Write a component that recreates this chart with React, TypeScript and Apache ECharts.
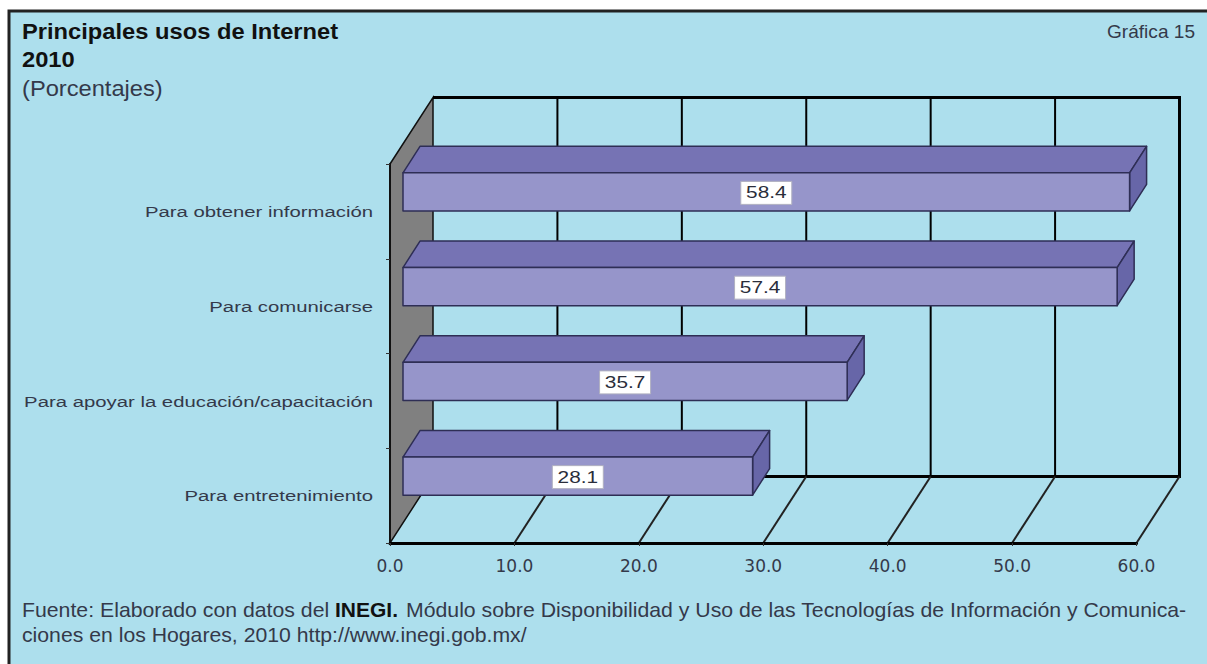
import React, { useEffect, useRef } from "react";
import * as echarts from "echarts";

const categories = [
  "Para obtener información",
  "Para comunicarse",
  "Para apoyar la educación/capacitación",
  "Para entretenimiento",
];
const values = [58.4, 57.4, 35.7, 28.1];
const xTicks = [0, 10, 20, 30, 40, 50, 60];

const WALL_DX = 43;
const WALL_DY = -66.5;
const BAR_DX = 13;
const BAR_DY = -19.5;
const DEPTH_DX = 17;
const DEPTH_DY = -26.5;
const SANS = "'Liberation Sans', Arial, sans-serif";
const WIDE = "'DejaVu Sans', sans-serif";
const INK = "#34394a";

export default function App() {
  const ref = useRef<HTMLDivElement>(null);
  useEffect(() => {
    const chart = echarts.init(ref.current!, undefined, { renderer: "svg" });

    const renderWall = (params: any, api: any) => {
      const cs = params.coordSys;
      const l = cs.x, t = cs.y, b = cs.y + cs.height, r = cs.x + cs.width;
      return {
        type: "group",
        children: [
          {
            type: "polygon",
            shape: { points: [[l, t], [l + WALL_DX, t + WALL_DY], [l + WALL_DX, b + WALL_DY], [l, b]] },
            style: { fill: "#808080", stroke: "#111", lineWidth: 1.5 },
          },
          {
            type: "polyline",
            shape: { points: [[l + WALL_DX, t + WALL_DY], [r + WALL_DX, t + WALL_DY], [r + WALL_DX, b + WALL_DY], [l + WALL_DX, b + WALL_DY]] },
            style: { fill: "none", stroke: "#000", lineWidth: 3 },
          },
        ],
      };
    };

    const renderGrid = (params: any, api: any) => {
      const cs = params.coordSys;
      const x = api.coord([api.value(0), 0])[0];
      const t = cs.y + WALL_DY, b = cs.y + cs.height;
      return {
        type: "group",
        children: [
          { type: "line", shape: { x1: x + WALL_DX, y1: t, x2: x + WALL_DX, y2: b + WALL_DY }, style: { stroke: "#000", lineWidth: 2 } },
          { type: "line", shape: { x1: x, y1: b, x2: x + WALL_DX, y2: b + WALL_DY }, style: { stroke: "#222", lineWidth: 2 } },
        ],
      };
    };

    const renderBar = (params: any, api: any) => {
      const v = api.value(0);
      const c0 = api.coord([0, api.value(1)]);
      const c1 = api.coord([v, api.value(1)]);
      const h = api.size([0, 1])[1] * 0.402;
      const x0 = c0[0] + BAR_DX, x1 = c1[0] + BAR_DX;
      const y0 = c0[1] + BAR_DY - h / 2, y1 = y0 + h;
      const edge = { stroke: "#2e2e55", lineWidth: 1.5, lineJoin: "round" };
      const cx = (x0 + x1) / 2, cy = (y0 + y1) / 2 + 1;
      return {
        type: "group",
        children: [
          { type: "polygon", shape: { points: [[x0, y0], [x0 + DEPTH_DX, y0 + DEPTH_DY], [x1 + DEPTH_DX, y0 + DEPTH_DY], [x1, y0]] }, style: { fill: "#7673b4", ...edge } },
          { type: "polygon", shape: { points: [[x1, y0], [x1 + DEPTH_DX, y0 + DEPTH_DY], [x1 + DEPTH_DX, y1 + DEPTH_DY], [x1, y1]] }, style: { fill: "#6766a8", ...edge } },
          { type: "rect", shape: { x: x0, y: y0, width: x1 - x0, height: h }, style: { fill: "#9695ca", ...edge } },
          { type: "rect", shape: { x: cx - 25.5, y: cy - 11.5, width: 51, height: 23 }, style: { fill: "#fff", stroke: "#b0b0c0", lineWidth: 1 } },
          { type: "text", x: cx, y: cy, scaleX: 1.3, style: { x: 0, y: 0, text: v.toFixed(1), align: "center", verticalAlign: "middle", font: `16px ${SANS}`, fill: "#2a2d3a" } },
        ],
      };
    };

    const renderCategoryLabel = (params: any, api: any) => {
      const c = api.coord([0, api.value(1)]);
      return {
        type: "text",
        x: c[0] - 17,
        y: c[1] + 0.5,
        scaleX: 1.311,
        style: { x: 0, y: 0, text: categories[api.value(1)], align: "right", verticalAlign: "middle", font: `15.5px ${SANS}`, fill: INK },
      };
    };

    const text = (x: number, y: number, t: string, size: number, opt: any = {}) => ({
      type: "text",
      z: 20,
      x,
      y,
      scaleX: opt.scale ?? 1,
      style: { x: 0, y: 0, text: t, font: `${opt.bold ? "bold " : ""}${size}px ${SANS}`, fill: opt.fill ?? INK, align: opt.align ?? "left", verticalAlign: "middle" },
    });

    chart.setOption({
      animation: false,
      backgroundColor: "#ffffff",
      grid: { left: 390, right: 70.5, top: 164, bottom: 121, containLabel: false },
      xAxis: {
        type: "value",
        min: 0,
        max: 60,
        interval: 10,
        z: 5,
        splitLine: { show: false },
        axisLine: { show: true, lineStyle: { color: "#000", width: 3 } },
        axisTick: { show: true, length: 3, lineStyle: { color: "#333", width: 1 } },
        axisLabel: { margin: 14, color: INK, fontFamily: WIDE, fontSize: 17, formatter: (v: number) => v.toFixed(1) },
      },
      yAxis: {
        type: "category",
        data: categories,
        inverse: true,
        z: 5,
        axisLine: { show: true, lineStyle: { color: "#111", width: 2 } },
        axisTick: { show: true, length: 4, lineStyle: { color: "#333", width: 1 } },
        axisLabel: { show: false },
      },
      series: [
        { type: "custom", z: 1, silent: true, renderItem: renderWall, data: [[0, 0]], encode: { x: 0, y: 1 } },
        { type: "custom", z: 2, silent: true, renderItem: renderGrid, data: xTicks.slice(1).map((t) => [t, 0]), encode: { x: 0, y: 1 } },
        { type: "custom", z: 10, renderItem: renderBar, data: values.map((v, i) => [v, i]), encode: { x: 0, y: 1 } },
        { type: "custom", z: 11, silent: true, renderItem: renderCategoryLabel, data: categories.map((_, i) => [0, i]), encode: { x: 0, y: 1 } },
      ],
      graphic: [
        { type: "rect", z: -10, silent: true, shape: { x: 9, y: 11, width: 1300, height: 800 }, style: { fill: "#addfed", stroke: "#222", lineWidth: 3 } },
        text(22, 31, "Principales usos de Internet", 22, { bold: true, fill: "#111", scale: 1.078 }),
        text(22, 59, "2010", 22, { bold: true, fill: "#111", scale: 1.078 }),
        text(22, 88, "(Porcentajes)", 22, { scale: 1.076 }),
        text(1195, 32, "Gráfica 15", 17.5, { align: "right", scale: 1.09 }),
        text(22, 610, "Fuente: Elaborado con datos del", 20, { scale: 1.064 }),
        text(335, 610, "INEGI.", 20, { bold: true, fill: "#111", scale: 1.05 }),
        text(406, 610, "Módulo sobre Disponibilidad y Uso de las Tecnologías de Información y Comunica-", 20, { scale: 1.063 }),
        text(22, 635, "ciones en los Hogares, 2010 http://www.inegi.gob.mx/", 20, { scale: 1.061 }),
      ],
    });
    return () => chart.dispose();
  }, []);
  return <div ref={ref} style={{ position: "fixed", left: 0, top: 0, width: 1207, height: 664 }} />;
}
